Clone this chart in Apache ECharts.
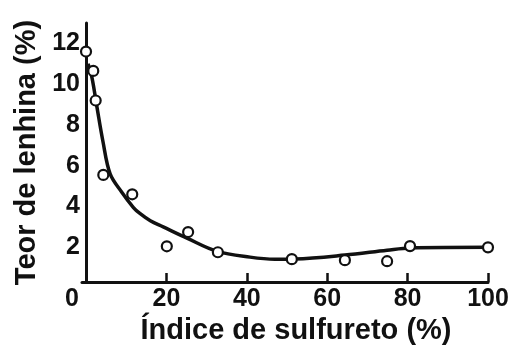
<!DOCTYPE html>
<html>
<head>
<meta charset="utf-8">
<script src="https://cdn.jsdelivr.net/npm/echarts@6/dist/echarts.min.js"></script>
<style>
  html, body { margin: 0; padding: 0; background: #fff; }
  #main { width: 509px; height: 350px; }
</style>
</head>
<body>
<div id="main"></div>
<script>
// measured points (open circles)
var sulfX = [0, 1.8, 2.4, 4.3, 11.5, 20.1, 25.4, 32.8, 51.2, 64.4, 74.9, 80.6, 100];
var lenhY = [11.6, 10.65, 9.2, 5.55, 4.6, 2.05, 2.75, 1.76, 1.42, 1.37, 1.32, 2.06, 2.0];

// fitted curve
var curveX = [0.5, 1.5, 2.7, 4.2, 6, 8.9, 11.8, 13.4, 16, 19.2, 25.1, 32.6, 40.8, 47, 52, 64.4, 74.9, 80.6, 100];
var curveY = [11.0, 10.3, 8.9, 7.2, 5.6, 4.7, 3.95, 3.66, 3.3, 3.0, 2.45, 1.8, 1.52, 1.42, 1.43, 1.62, 1.86, 1.97, 2.0];

var xTicks = [20, 40, 60, 80, 100];
var xLabels = [0, 20, 40, 60, 80, 100];
var yLabels = [2, 4, 6, 8, 10, 12];

function pairs(xs, ys) {
    var res = [];
    for (var i = 0; i < xs.length; i++) {
        res.push([xs[i], ys[i]]);
    }
    return res;
}

var font = "'Liberation Sans', Arial, sans-serif";
var ink = '#111';

var myChart = echarts.init(document.getElementById('main'));

var option = {
    backgroundColor: '#fff',
    animation: false,
    grid: {
        left: 82,
        right: 21,
        top: 23,
        bottom: 68,
        containLabel: false,
        outerBoundsMode: 'none'
    },
    xAxis: {
        type: 'value',
        min: -1,
        max: 100,
        name: 'Índice de sulfureto (%)',
        nameLocation: 'middle',
        nameGap: 32,
        nameTextStyle: {
            fontFamily: font,
            fontWeight: 'bold',
            fontSize: 29,
            color: ink,
            padding: [0, 0, 0, 22]
        },
        axisLine: { lineStyle: { color: ink, width: 3 } },
        axisTick: {
            show: true,
            inside: true,
            length: 9,
            customValues: xTicks,
            lineStyle: { color: ink, width: 2.5 }
        },
        axisLabel: {
            customValues: xLabels,
            margin: 5,
            fontFamily: font,
            fontWeight: 'bold',
            fontSize: 25,
            color: ink,
            formatter: function (v) {
                return v === 0 ? '{z|0}' : String(v);
            },
            rich: {
                z: {
                    fontFamily: font,
                    fontWeight: 'bold',
                    fontSize: 25,
                    color: ink,
                    padding: [0, 28, 0, 0]
                }
            }
        },
        splitLine: { show: false }
    },
    yAxis: {
        type: 'value',
        min: 0.3,
        max: 13,
        name: 'Teor de lenhina (%)',
        nameLocation: 'middle',
        nameGap: 38,
        nameTextStyle: {
            fontFamily: font,
            fontWeight: 'bold',
            fontSize: 29,
            color: ink
        },
        axisLine: { show: true, lineStyle: { color: ink, width: 3 } },
        axisTick: { show: false },
        axisLabel: {
            customValues: yLabels,
            margin: 2,
            fontFamily: font,
            fontWeight: 'bold',
            fontSize: 25,
            color: ink
        },
        splitLine: { show: false }
    },
    series: [{
        type: 'line',
        data: pairs(curveX, curveY),
        smooth: 0.35,
        symbol: 'none',
        lineStyle: { color: ink, width: 3.5 },
        z: 2
    }, {
        type: 'scatter',
        data: pairs(sulfX, lenhY),
        symbol: 'circle',
        symbolSize: 10,
        itemStyle: {
            color: '#fff',
            borderColor: ink,
            borderWidth: 2.2,
            opacity: 1
        },
        z: 3
    }]
};

myChart.setOption(option);
</script>
</body>
</html>
